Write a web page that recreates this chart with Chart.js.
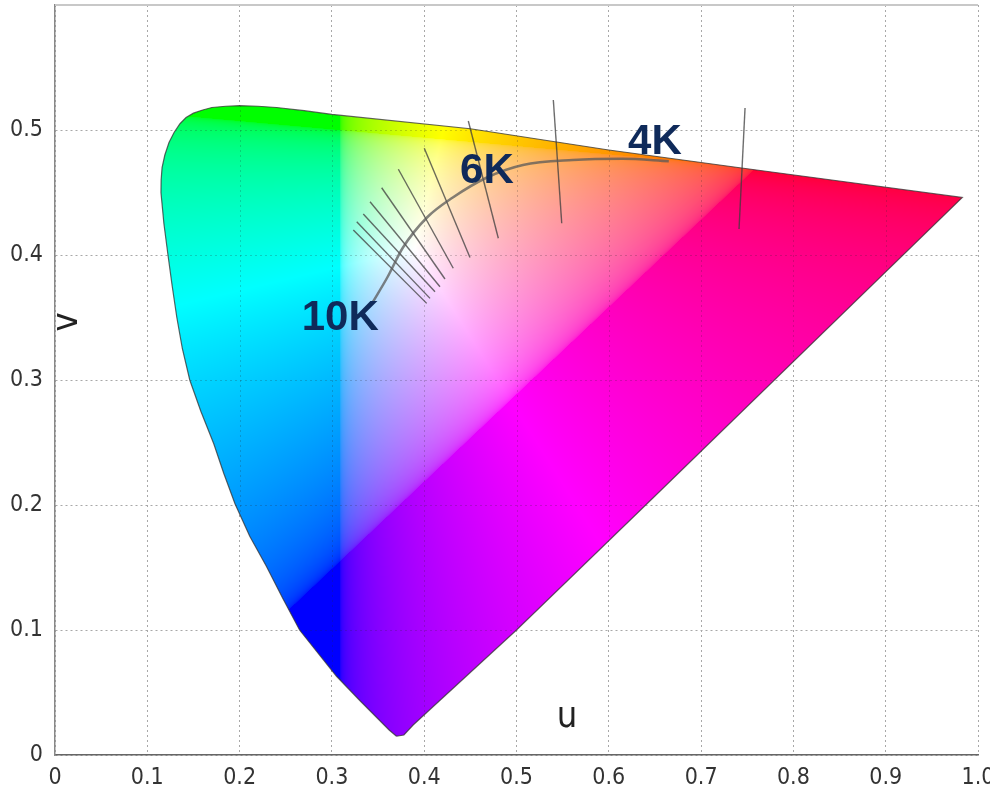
<!DOCTYPE html>
<html>
<head>
<meta charset="utf-8">
<script src="https://cdn.jsdelivr.net/npm/chart.js@4.4.0/dist/chart.umd.min.js"></script>
<style>
  body { margin: 0; background: #fff; }
  #wrap { width: 990px; height: 789px; }
</style>
</head>
<body>
<div id="wrap"><canvas id="chart"></canvas></div>
<script>
// Gamut outline (u, v), tip first, going up the left side and back down the right side
const gamutU = [0.370, 0.362, 0.331, 0.305, 0.265, 0.247, 0.229, 0.211, 0.195, 0.183, 0.172, 0.158, 0.146, 0.138, 0.132, 0.127, 0.1224, 0.118, 0.1148, 0.1150, 0.116, 0.119, 0.1235, 0.129, 0.1354, 0.142, 0.150, 0.160, 0.170, 0.185, 0.200, 0.220, 0.240, 0.270, 0.300, 0.450, 0.600, 0.750, 0.983, 0.640, 0.500, 0.388, 0.378, 0.370];
const gamutV = [0.015, 0.020, 0.043, 0.063, 0.100, 0.125, 0.151, 0.175, 0.201, 0.225, 0.249, 0.275, 0.300, 0.325, 0.350, 0.375, 0.400, 0.425, 0.450, 0.460, 0.470, 0.480, 0.490, 0.498, 0.505, 0.510, 0.5135, 0.516, 0.518, 0.519, 0.5195, 0.519, 0.518, 0.5155, 0.5125, 0.501, 0.484, 0.469, 0.446, 0.200, 0.100, 0.024, 0.016, 0.015];

// Planckian locus
const locusU = [0.344, 0.360, 0.377, 0.403, 0.431, 0.468, 0.507, 0.561, 0.615, 0.665];
const locusV = [0.362, 0.382, 0.406, 0.430, 0.446, 0.462, 0.472, 0.476, 0.477, 0.475];

// Isotemperature lines (start / end)
const isoStartU = [0.3232, 0.3269, 0.3340, 0.3413, 0.3539, 0.3720, 0.4001, 0.4478, 0.5399, 0.7476];
const isoStartV = [0.4200, 0.4266, 0.4328, 0.4426, 0.4538, 0.4686, 0.4854, 0.5072, 0.5240, 0.5176];
const isoEndU = [0.4027, 0.4063, 0.4117, 0.4171, 0.4225, 0.4315, 0.4496, 0.4803, 0.5490, 0.7411];
const isoEndV = [0.3613, 0.3653, 0.3706, 0.3746, 0.3808, 0.3894, 0.3980, 0.4134, 0.4254, 0.4208];

// Temperature labels
const cctLabels = ["10K", "6K", "4K"];
const cctU = [0.309, 0.468, 0.650];
const cctV = [0.349, 0.467, 0.490];

// Tick labels
const xTickLabels = ["0", "0.1", "0.2", "0.3", "0.4", "0.5", "0.6", "0.7", "0.8", "0.9", "1.0"];
const yTickLabels = ["0", "0.1", "0.2", "0.3", "0.4", "0.5", ""];

// Colour model: display primaries and white point in (u, v)
const primR = [0.76, 0.47];
const primG = [0.309, 0.50];
const primB = [0.309, 0.155];
const whitePt = [0.39, 0.405];

const tickFont = "'Liberation Sans Narrow', 'DejaVu Sans Condensed', 'Open Sans', sans-serif";

function toPoints(us, vs) {
  return us.map((u, i) => ({ x: u, y: vs[i] }));
}

function buildGamutImage(chart) {
  const ca = chart.chartArea;
  const x = chart.scales.x, y = chart.scales.y;
  const w = Math.ceil(ca.right - ca.left), h = Math.ceil(ca.bottom - ca.top);
  const off = document.createElement("canvas");
  off.width = w;
  off.height = h;
  const octx = off.getContext("2d");
  const img = octx.createImageData(w, h);
  const px = img.data;

  const [x1, y1] = primR, [x2, y2] = primG, [x3, y3] = primB;
  const det = (y2 - y3) * (x1 - x3) + (x3 - x2) * (y1 - y3);
  const bary = (u, v) => {
    const a = ((y2 - y3) * (u - x3) + (x3 - x2) * (v - y3)) / det;
    const b = ((y3 - y1) * (u - x3) + (x1 - x3) * (v - y3)) / det;
    return [a, b, 1 - a - b];
  };
  const wb = bary(whitePt[0], whitePt[1]);
  const gam = 1 / 3.3;

  for (let j = 0; j < h; j++) {
    const v = y.getValueForPixel(ca.top + j + 0.5);
    for (let i = 0; i < w; i++) {
      const u = x.getValueForPixel(ca.left + i + 0.5);
      const c = bary(u, v);
      let r = Math.max(0, c[0] / wb[0]);
      let g = Math.max(0, c[1] / wb[1]);
      let b = Math.max(0, c[2] / wb[2]);
      const m = Math.max(r, g, b) || 1;
      const k = (j * w + i) * 4;
      px[k] = 255 * Math.pow(r / m, gam);
      px[k + 1] = 255 * Math.pow(g / m, gam);
      px[k + 2] = 255 * Math.pow(b / m, gam);
      px[k + 3] = 255;
    }
  }
  octx.putImageData(img, 0, 0);
  return off;
}

const gamutFill = {
  id: "gamutFill",
  beforeDatasetsDraw(chart) {
    const { ctx, chartArea: ca } = chart;
    const x = chart.scales.x, y = chart.scales.y;
    const pts = chart.getDatasetMeta(0).data;
    if (!chart.$gamutImg) chart.$gamutImg = buildGamutImage(chart);
    ctx.save();
    ctx.beginPath();
    pts.forEach((p, i) => (i ? ctx.lineTo(p.x, p.y) : ctx.moveTo(p.x, p.y)));
    ctx.closePath();
    ctx.clip();
    ctx.drawImage(chart.$gamutImg, ca.left, ca.top);
    // dotted grid shows through the colours
    ctx.strokeStyle = "rgba(40,40,40,0.22)";
    ctx.lineWidth = 1;
    ctx.setLineDash([2, 3]);
    x.ticks.forEach((t) => {
      const xx = Math.round(x.getPixelForValue(t.value)) + 0.5;
      ctx.beginPath();
      ctx.moveTo(xx, ca.top);
      ctx.lineTo(xx, ca.bottom);
      ctx.stroke();
    });
    y.ticks.forEach((t) => {
      const yy = Math.round(y.getPixelForValue(t.value)) + 0.5;
      ctx.beginPath();
      ctx.moveTo(ca.left, yy);
      ctx.lineTo(ca.right, yy);
      ctx.stroke();
    });
    ctx.restore();
  },
  afterDatasetsDraw(chart) {
    const { ctx, chartArea: ca } = chart;
    const x = chart.scales.x, y = chart.scales.y;
    ctx.save();
    // temperature labels
    ctx.fillStyle = "#0f2a5a";
    ctx.font = "bold 42px 'Liberation Sans', Arial, sans-serif";
    ctx.textAlign = "center";
    ctx.textBaseline = "middle";
    cctLabels.forEach((t, i) => {
      ctx.fillText(t, x.getPixelForValue(cctU[i]), y.getPixelForValue(cctV[i]));
    });
    // axis names inside the plot
    ctx.fillStyle = "#222";
    ctx.font = "36px " + tickFont;
    ctx.fillText("u", x.getPixelForValue(0.5547), y.getPixelForValue(0.030));
    ctx.translate(x.getPixelForValue(0.0184), y.getPixelForValue(0.3464));
    ctx.rotate(-Math.PI / 2);
    ctx.fillText("v", 0, -4);
    ctx.restore();
    // light top frame
    ctx.save();
    ctx.strokeStyle = "#c8c8c8";
    ctx.lineWidth = 2;
    ctx.beginPath();
    ctx.moveTo(ca.left, ca.top);
    ctx.lineTo(ca.right, ca.top);
    ctx.stroke();
    ctx.restore();
  }
};

const datasets = [
  {
    data: toPoints(gamutU, gamutV),
    showLine: true,
    borderColor: "rgba(50,50,50,0.75)",
    borderWidth: 1.2,
    pointRadius: 0,
    tension: 0
  },
  {
    data: toPoints(locusU, locusV),
    showLine: true,
    borderColor: "rgba(90,90,90,0.75)",
    borderWidth: 2.5,
    pointRadius: 0,
    cubicInterpolationMode: "monotone"
  }
];
isoStartU.forEach((u, i) => {
  datasets.push({
    data: [{ x: u, y: isoStartV[i] }, { x: isoEndU[i], y: isoEndV[i] }],
    showLine: true,
    borderColor: "rgba(60,60,60,0.75)",
    borderWidth: 1.4,
    pointRadius: 0
  });
});

function noPad(s) {
  s.paddingTop = 0;
  s.paddingBottom = 0;
  s.paddingLeft = 0;
  s.paddingRight = 0;
}

new Chart(document.getElementById("chart").getContext("2d"), {
  type: "scatter",
  data: { datasets: datasets },
  options: {
    responsive: true,
    maintainAspectRatio: false,
    animation: false,
    layout: { padding: { top: 5, right: 12, left: 0, bottom: 0 } },
    plugins: { legend: { display: false }, tooltip: { enabled: false } },
    scales: {
      x: {
        type: "linear",
        min: 0,
        max: 1,
        afterFit: (s) => { s.height = 34; noPad(s); },
        ticks: {
          stepSize: 0.1,
          autoSkip: false,
          maxRotation: 0,
          padding: 9,
          color: "#333",
          font: { family: tickFont, size: 23 },
          callback: (v, i) => xTickLabels[i]
        },
        grid: { color: "#a8a8a8", drawTicks: false, lineWidth: 1 },
        border: { display: true, color: "#666", width: 1.5, dash: [2, 3] }
      },
      y: {
        type: "linear",
        min: 0,
        max: 0.6,
        afterFit: (s) => { s.width = 55; noPad(s); },
        ticks: {
          stepSize: 0.1,
          autoSkip: false,
          padding: 12,
          color: "#333",
          font: { family: tickFont, size: 23 },
          callback: (v, i) => yTickLabels[i]
        },
        grid: { color: "#a8a8a8", drawTicks: false, lineWidth: 1 },
        border: { display: true, color: "#888", width: 1.5, dash: [2, 3] }
      }
    }
  },
  plugins: [gamutFill]
});
</script>
</body>
</html>
